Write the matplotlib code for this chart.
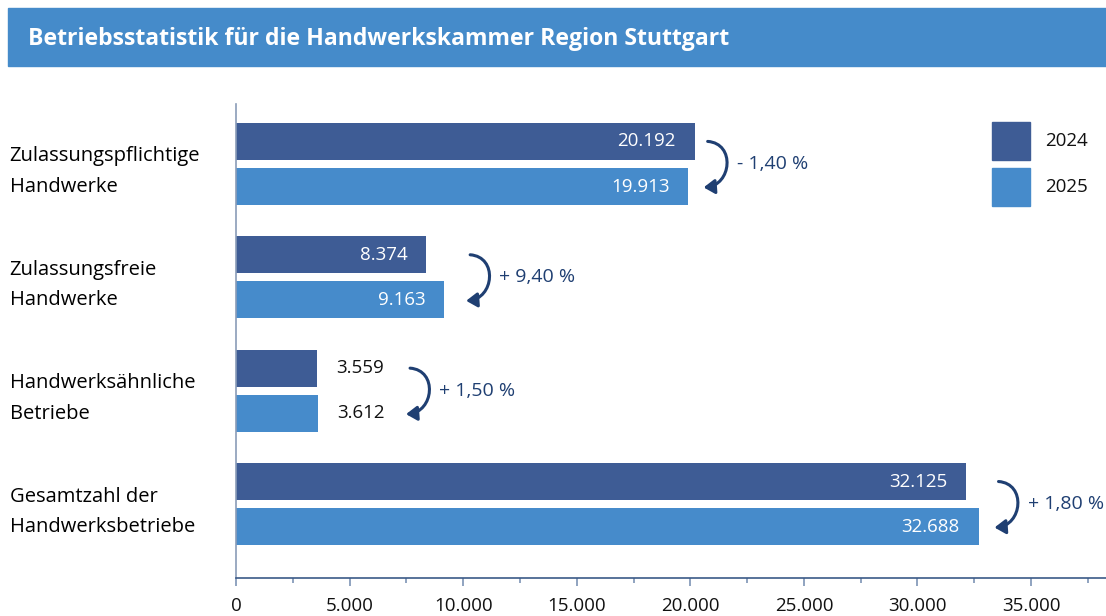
import matplotlib.pyplot as plt
import matplotlib.transforms as mtransforms
from matplotlib.patches import Rectangle, FancyArrowPatch
from matplotlib.path import Path
import numpy as np

plt.rcParams["font.family"] = ["Open Sans", "DejaVu Sans"]

categories = [
    "Zulassungspflichtige\nHandwerke",
    "Zulassungsfreie\nHandwerke",
    "Handwerksähnliche\nBetriebe",
    "Gesamtzahl der\nHandwerksbetriebe",
]
values_2024 = [20192, 8374, 3559, 32125]
values_2025 = [19913, 9163, 3612, 32688]
changes = ["- 1,40 %", "+ 9,40 %", "+ 1,50 %", "+ 1,80 %"]
years = ["2024", "2025"]

col_2024 = "#3e5c95"
col_2025 = "#468bcb"
col_arrow = "#1f3f72"
col_axis = "#3b5a88"


def fmt_de(v):
    return f"{v:,}".replace(",", ".")


fig = plt.figure(figsize=(11.06, 6.16), dpi=100)
ax = fig.add_axes([236 / 1106, 38 / 616, 1 - 236 / 1106, (578 - 104) / 616])

y = np.arange(len(categories))
h = 0.326
off = 0.199

b1 = ax.barh(y - off, values_2024, height=h, color=col_2024)
b2 = ax.barh(y + off, values_2025, height=h, color=col_2025)

ax.set_xlim(0, 38300)
ax.set_ylim(3.652, -0.529)

# value labels: inside the bar (white) if wide enough, else outside (black)
for bars, vals in [(b1, values_2024), (b2, values_2025)]:
    for bar, v in zip(bars, vals):
        yc = bar.get_y() + bar.get_height() / 2
        if v > 5000:
            tr = mtransforms.offset_copy(ax.transData, fig, x=-13.5, y=0, units="points")
            ax.text(v, yc, fmt_de(v), transform=tr, ha="right", va="center",
                    color="white", fontsize=13.5)
        else:
            tr = mtransforms.offset_copy(ax.transData, fig, x=14, y=0, units="points")
            ax.text(v, yc, fmt_de(v), transform=tr, ha="left", va="center",
                    color="#111111", fontsize=13.5)

# curved arrows (half-circle like) with percentage change
arrow_gap_px = [13, 26, 92, 20]
for i in range(len(categories)):
    xv = max(values_2024[i], values_2025[i])
    sx, sy = ax.transData.transform((xv, y[i] - off))
    sx += arrow_gap_px[i]
    pts = [(sx, sy), (sx + 28, sy - 2), (sx + 24, sy - 44), (sx - 4, sy - 46)]
    p = Path(pts, [Path.MOVETO, Path.CURVE4, Path.CURVE4, Path.CURVE4])
    arr = FancyArrowPatch(path=p, transform=mtransforms.IdentityTransform(),
                          arrowstyle="-|>,head_length=6.5,head_width=4.3",
                          color=col_arrow, lw=2.2)
    fig.patches.append(arr)
    dx = arrow_gap_px[i] * 72 / 100
    tr_t = mtransforms.offset_copy(ax.transData, fig, x=dx + 21, y=0, units="points")
    ax.text(xv, y[i], changes[i], transform=tr_t, ha="left", va="center",
            color=col_arrow, fontsize=14)

# axes styling
for s in ["top", "right"]:
    ax.spines[s].set_visible(False)
ax.spines["left"].set_color("#8a9cb8")
ax.spines["left"].set_linewidth(1.2)
ax.spines["bottom"].set_color(col_axis)
ax.spines["bottom"].set_linewidth(1.2)

ax.set_xticks(np.arange(0, 35001, 5000))
ax.set_xticks(np.arange(2500, 37501, 5000), minor=True)
ax.set_xticklabels([fmt_de(int(t)) for t in np.arange(0, 35001, 5000)])
ax.tick_params(axis="x", which="major", length=6, width=1.2, color="#7d93b5",
               labelsize=13.5, pad=8, labelcolor="#111111")
ax.tick_params(axis="x", which="minor", length=3.5, width=1.2, color="#7d93b5")

ax.set_yticks(y)
ax.set_yticklabels(categories, fontsize=14.5, ha="left", linespacing=1.7)
ax.tick_params(axis="y", length=0, pad=163)

# legend: two squares with year labels
for k, (yr, col) in enumerate(zip(years, [col_2024, col_2025])):
    top = 122 + k * 46
    fig.patches.append(Rectangle((992 / 1106, 1 - (top + 38) / 616), 38 / 1106, 38 / 616,
                                 transform=fig.transFigure, color=col))
    fig.text(1045 / 1106, 1 - (top + 19) / 616, yr, fontsize=13.5,
             va="center", ha="left", color="#111111")

# title bar
fig.patches.append(Rectangle((8 / 1106, 1 - 66 / 616), 1 - 8 / 1106, 58 / 616,
                             transform=fig.transFigure, color="#458bca", zorder=0))
fig.text(28 / 1106, 1 - 39 / 616, "Betriebsstatistik für die Handwerkskammer Region Stuttgart",
         color="white", fontsize=16.6, fontweight="bold", va="center", ha="left")

fig.savefig("out.png", dpi=100)
